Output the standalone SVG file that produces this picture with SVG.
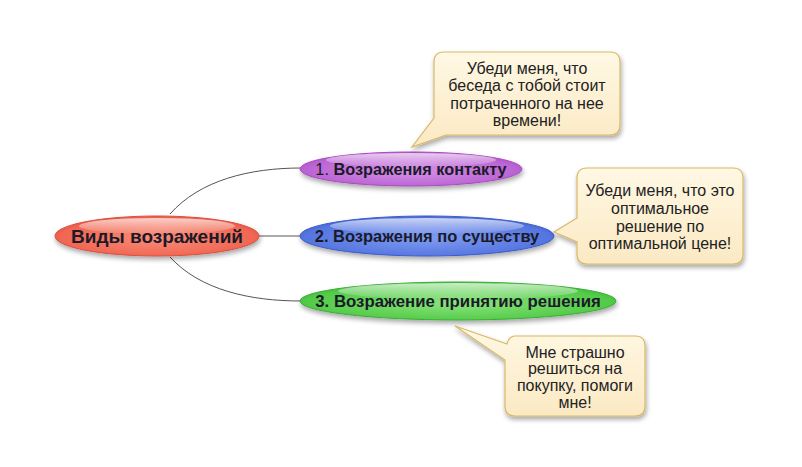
<svg xmlns="http://www.w3.org/2000/svg" width="802" height="467" viewBox="0 0 802 467">
<defs>
<style>
.conn{fill:none;stroke:#555;stroke-width:1}
.nt{font-family:"Liberation Sans",Arial,sans-serif;font-weight:bold;fill:#1a1a28;text-anchor:middle}
.ct{font-family:"Liberation Sans",Arial,sans-serif;font-size:16px;fill:#222;text-anchor:middle}
.call{fill:url(#gCall);stroke:#d9b968;stroke-width:1.2}
.hl{fill:url(#gHi)}
</style>
<filter id="sh" x="-20%" y="-40%" width="140%" height="180%">
<feGaussianBlur in="SourceAlpha" stdDeviation="2.5"/>
<feOffset dx="1" dy="2.5" result="b"/>
<feComponentTransfer><feFuncA type="linear" slope="0.35"/></feComponentTransfer>
<feMerge><feMergeNode/><feMergeNode in="SourceGraphic"/></feMerge>
</filter>
<linearGradient id="gCall" x1="0" y1="0" x2="0" y2="1">
<stop offset="0" stop-color="#fff8e4"/><stop offset="1" stop-color="#fbe9c3"/>
</linearGradient>
<linearGradient id="gHi" x1="0" y1="0" x2="0" y2="1">
<stop offset="0" stop-color="#fff" stop-opacity="0.7"/><stop offset="1" stop-color="#fff" stop-opacity="0.05"/>
</linearGradient>
<radialGradient id="gR" cx="0.5" cy="0.55" r="0.6">
<stop offset="0" stop-color="#f98c78"/><stop offset="0.8" stop-color="#f06652"/><stop offset="1" stop-color="#de4a38"/>
</radialGradient>
<radialGradient id="gP" cx="0.5" cy="0.55" r="0.6">
<stop offset="0" stop-color="#d592e6"/><stop offset="0.8" stop-color="#bb63d4"/><stop offset="1" stop-color="#a047bd"/>
</radialGradient>
<radialGradient id="gB" cx="0.5" cy="0.55" r="0.6">
<stop offset="0" stop-color="#7f9cf2"/><stop offset="0.8" stop-color="#5575e0"/><stop offset="1" stop-color="#3656c6"/>
</radialGradient>
<radialGradient id="gG" cx="0.5" cy="0.55" r="0.6">
<stop offset="0" stop-color="#8de47e"/><stop offset="0.8" stop-color="#52cb48"/><stop offset="1" stop-color="#34ad30"/>
</radialGradient>
</defs>
<rect width="802" height="467" fill="#fff"/>

<g id="connectors">
<path class="conn" d="M170,214 C200,180 250,168 301,168"/>
<path class="conn" d="M259,236 L301,236"/>
<path class="conn" d="M170,257 C200,290 250,301 301,301"/>
</g>

<g id="root">
<ellipse cx="157" cy="236" rx="102" ry="20" fill="url(#gR)" stroke="#d8503e" stroke-width="1" filter="url(#sh)"/>
<ellipse cx="157" cy="226" rx="78" ry="8" class="hl"/>
<text class="nt" x="157" y="243" font-size="19">Виды возражений</text>
</g>

<g id="n1">
<ellipse cx="411" cy="169" rx="111" ry="17" fill="url(#gP)" stroke="#a84cc0" stroke-width="1" filter="url(#sh)"/>
<ellipse cx="411" cy="160" rx="85" ry="7" class="hl"/>
<text class="nt" x="411" y="175" font-size="16.3"><tspan font-weight="normal">1.</tspan> Возражения контакту</text>
</g>

<g id="n2">
<ellipse cx="427" cy="236" rx="127" ry="20" fill="url(#gB)" stroke="#3b5bc8" stroke-width="1" filter="url(#sh)"/>
<ellipse cx="427" cy="226" rx="97" ry="8" class="hl"/>
<text class="nt" x="427" y="242" font-size="16.5">2. Возражения по существу</text>
</g>

<g id="n3">
<ellipse cx="458" cy="301" rx="158" ry="19" fill="url(#gG)" stroke="#3cad36" stroke-width="1" filter="url(#sh)"/>
<ellipse cx="458" cy="291" rx="120" ry="8" class="hl"/>
<text class="nt" x="458" y="307" font-size="16.8">3. Возражение принятию решения</text>
</g>

<g id="c1">
<path class="call" filter="url(#sh)" d="M444,52 H610 Q620,52 620,62 V125 Q620,135 610,135 H446 L412,147 L434,118 V62 Q434,52 444,52 Z"/>
<text class="ct" x="527" y="74">Убеди меня, что</text>
<text class="ct" x="527" y="91">беседа с тобой стоит</text>
<text class="ct" x="527" y="109">потраченного на нее</text>
<text class="ct" x="527" y="126">времени!</text>
</g>

<g id="c2">
<path class="call" filter="url(#sh)" d="M587,168 H733 Q743,168 743,178 V254 Q743,264 733,264 H587 Q577,264 577,254 V242 L554,232 L577,218 V178 Q577,168 587,168 Z"/>
<text class="ct" x="660" y="196">Убеди меня, что это</text>
<text class="ct" x="660" y="214">оптимальное</text>
<text class="ct" x="660" y="232">решение по</text>
<text class="ct" x="660" y="249">оптимальной цене!</text>
</g>

<g id="c3">
<path class="call" filter="url(#sh)" d="M515,336 H635 Q645,336 645,346 V406 Q645,416 635,416 H515 Q505,416 505,406 V360 L455,326 L507,344 Q509,336 515,336 Z"/>
<text class="ct" x="575" y="358">Мне страшно</text>
<text class="ct" x="575" y="374">решиться на</text>
<text class="ct" x="575" y="391">покупку, помоги</text>
<text class="ct" x="575" y="408">мне!</text>
</g>
</svg>
